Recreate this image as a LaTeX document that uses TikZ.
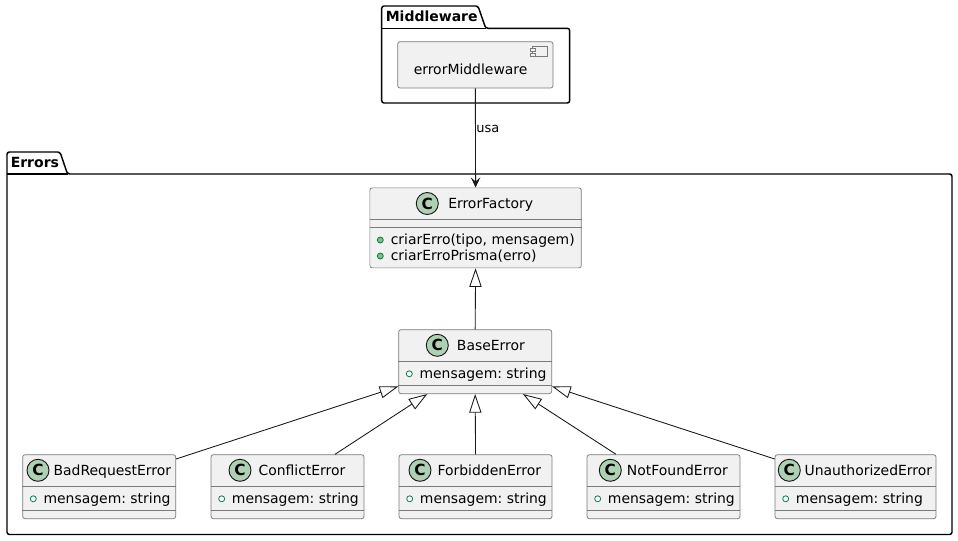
\documentclass[tikz,border=0pt]{standalone}
\usepackage{fontspec}
\setmainfont{DejaVu Sans}
\usetikzlibrary{arrows.meta, positioning, calc}
\definecolor{boxfill}{HTML}{F1F1F1}
\definecolor{boxline}{HTML}{181818}
\definecolor{boxedge}{HTML}{7A7A7A}
\definecolor{spotfill}{HTML}{ADD1B2}
\definecolor{fieldline}{HTML}{038048}
\definecolor{fieldfill}{HTML}{84BE84}

\begin{document}
\frenchspacing
\begin{tikzpicture}[x=0.75pt, y=-0.75pt,
      pack/.style={draw=black, line width=1.1pt, rounded corners=1.8pt},
      packname/.style={anchor=base west, inner sep=0pt, font=\bfseries\fontsize{10.5}{12}\selectfont},
      comp/.style={rectangle, draw=boxedge, fill=boxfill, line width=0.55pt, rounded corners=1.8pt, anchor=north west, inner sep=0pt},
      cls/.style={comp, minimum height=48pt},
      sep/.style={draw=boxedge, line width=0.55pt},
      spot/.style={circle, draw=boxline, fill=spotfill, line width=0.7pt, minimum size=16.5pt, inner sep=0pt, font=\bfseries\fontsize{11.5}{12}\selectfont},
      label/.style={anchor=base west, inner sep=0pt, font=\fontsize{10.45}{12}\selectfont},
      pub/.style={circle, draw=fieldline, fill=#1, line width=0.6pt, minimum size=4.5pt, inner sep=0pt},
      extends/.style={{Triangle[open, length=14pt, width=9.2pt]}-, draw=boxline, line width=0.65pt},
      uses/.style={-{Stealth[length=7.5pt, width=7pt, inset=3pt]}, draw=boxline, line width=0.65pt}]

      \useasboundingbox (0,0) rectangle (958,540);

      % Packages
      \draw[pack] (381.7,28.3) -- (381.7,6) -- (478,6) -- (485.7,28.3) -- (569.7,28.3) -- (569.7,103) -- (381.7,103) -- cycle;
      \draw[pack] (381.7,28.3) -- (485.7,28.3);
      \node[packname] (middlewarename) at (385.5,21) {Middleware};
      \draw[pack] (7,174) -- (7,152) -- (60,152) -- (67.5,174) -- (952,174) -- (952,534.5) -- (7,534.5) -- cycle;
      \draw[pack] (7,174) -- (67.5,174);
      \node[packname] (errorsname) at (10.5,167) {Errors};

      % Component
      \node[comp, minimum width=116.5pt, minimum height=34.8pt] (middleware) at (397.3,41.3) {};
      \node[label] (middlewarelabel) at (413.5,74) {errorMiddleware};
      \draw[sep, fill=boxfill] (532.3,46.3) rectangle (547.7,56.3);
      \draw[sep, fill=boxfill] (530,48.3) rectangle (535,51.3);
      \draw[sep, fill=boxfill] (530,53) rectangle (535,56);

      % Factory
      \node[comp, minimum width=158.6pt, minimum height=60pt] (factory) at (369.5,187.5) {};
      \draw[sep] ($(factory.north west)+(0,31.8)$) -- ($(factory.north east)+(0,31.8)$);
      \draw[sep] ($(factory.north west)+(0,39.5)$) -- ($(factory.north east)+(0,39.5)$);
      \node[spot] (factoryspot) at ($(factory.north west)+(57.8,16)$) {C};
      \node[label] (factoryname) at ($(factory.north west)+(78.5,21.2)$) {ErrorFactory};
      \node[pub=fieldfill] (dota) at ($(factory.north west)+(10.8,52.5)$) {};
      \node[pub=fieldfill] (dotb) at ($(factory.north west)+(10.8,68.5)$) {};
      \node[label] (methoda) at ($(factory.north west)+(21,56.5)$) {criarErro(tipo, mensagem)};
      \node[label] (methodb) at ($(factory.north west)+(21,72.5)$) {criarErroPrisma(erro)};

      % Classes with the same field
      \foreach \nm/\txt/\xpos/\ypos/\wid/\spotx/\namex in {
        base/BaseError/398.3/329.3/153/39/58.4,
        bad/BadRequestError/22.3/454.3/153/15.7/31,
        conflict/ConflictError/210.7/454.3/153/29.3/47.6,
        forbidden/ForbiddenError/398.7/454.3/153/21.3/38.6,
        notfound/NotFoundError/586.7/454.3/153/23.6/40,
        unauth/UnauthorizedError/774.7/454.3/161/14.6/29.6} {
        \node[cls, minimum width={\wid*0.75pt}] (\nm) at (\xpos,\ypos) {};
        \draw[sep] ($(\nm.north west)+(0,32.4)$) -- ($(\nm.north east)+(0,32.4)$);
        \draw[sep] ($(\nm.north west)+(0,56)$) -- ($(\nm.north east)+(0,56)$);
        \node[spot] (\nm spot) at ($(\nm.north west)+(\spotx,16)$) {C};
        \node[label] (\nm name) at ($(\nm.north west)+(\namex,20.7)$) {\txt};
        \node[pub=white] (\nm dot) at ($(\nm.north west)+(11,44.5)$) {};
        \node[label] (\nm field) at ($(\nm.north west)+(21,49)$) {mensagem: string};
      }

      % Arrows
      \draw[uses] (middleware.south) -- (factory.north);
      \node[label, font=\fontsize{9.75}{12}\selectfont] (usalabel) at (476,132) {usa};
      \draw[extends] (factory.south) -- (base.north);
      \draw[extends] ($(base.south west)+(0,-7.6)$) -- ($(bad.north east)+(0,4.7)$);
      \draw[extends] ($(base.south west)+(29,0)$) -- ($(conflict.north east)+(-29.4,0)$);
      \draw[extends] (base.south) -- (forbidden.north);
      \draw[extends] ($(base.south east)+(-29,0)$) -- ($(notfound.north west)+(29.3,0)$);
      \draw[extends] ($(base.south east)+(0,-7.6)$) -- ($(unauth.north west)+(0,4.7)$);
    \end{tikzpicture}
\end{document}
